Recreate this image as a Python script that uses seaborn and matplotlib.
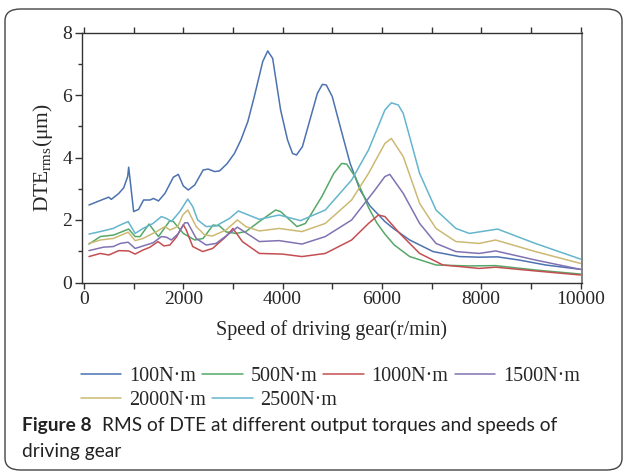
import matplotlib
matplotlib.use("Agg")
import matplotlib.pyplot as plt
from matplotlib.patches import FancyBboxPatch
from matplotlib.ticker import MultipleLocator
import seaborn as sns
import pandas as pd

series_names = ["100N·m", "500N·m", "1000N·m", "1500N·m", "2000N·m", "2500N·m"]

speed_100 = [100, 400, 500, 550, 700, 800, 880, 900, 1000, 1100, 1200, 1330, 1400, 1500, 1630,
             1800, 1900, 2000, 2100, 2230, 2400, 2500, 2630, 2730, 2880, 3030, 3160, 3300, 3430,
             3600, 3700, 3800, 3960, 4100, 4200, 4280, 4400, 4530, 4700, 4800, 4880, 5000, 5160,
             5360, 5560, 5760, 5960, 6060, 6230, 6560, 7030, 7560, 7960, 8330, 8760, 9300, 10000]
dte_100 = [2.48, 2.67, 2.73, 2.66, 2.85, 3.03, 3.39, 3.69, 2.27, 2.34, 2.64, 2.64, 2.69, 2.61, 2.85,
           3.37, 3.46, 3.09, 2.96, 3.12, 3.60, 3.63, 3.55, 3.57, 3.80, 4.13, 4.56, 5.15, 5.95,
           7.07, 7.41, 7.17, 5.52, 4.56, 4.13, 4.08, 4.35, 5.09, 6.05, 6.34, 6.32, 5.95, 4.99,
           3.81, 2.96, 2.45, 2.12, 1.95, 1.73, 1.36, 0.99, 0.83, 0.81, 0.82, 0.72, 0.56, 0.42]

speed_500 = [100, 330, 600, 900, 1030, 1130, 1310, 1500, 1730, 1800, 2000, 2230, 2400, 2600, 2730,
             2860, 3060, 3260, 3530, 3860, 3960, 4290, 4460, 4790, 5030, 5190, 5290, 5460, 5600,
             5730, 5900, 6060, 6250, 6560, 7090, 7760, 8290, 9090, 10000]
dte_500 = [1.23, 1.47, 1.52, 1.71, 1.47, 1.47, 1.87, 1.47, 1.98, 1.95, 1.57, 1.36, 1.41, 1.84, 1.81,
           1.62, 1.57, 1.63, 1.95, 2.32, 2.27, 1.79, 1.89, 2.75, 3.49, 3.81, 3.79, 3.39, 2.90,
           2.40, 1.90, 1.55, 1.20, 0.83, 0.56, 0.53, 0.54, 0.40, 0.27]

speed_1000 = [100, 330, 500, 700, 900, 1030, 1190, 1330, 1490, 1610, 1730, 1860, 2000, 2060, 2190,
              2390, 2590, 2860, 3000, 3190, 3530, 3990, 4390, 4860, 5390, 5730, 5930, 6060, 6360,
              6760, 7230, 7960, 8290, 9090, 10000]
dte_1000 = [0.83, 0.93, 0.88, 1.02, 1.01, 0.91, 1.04, 1.13, 1.31, 1.17, 1.20, 1.45, 1.85, 1.68, 1.15,
            0.99, 1.09, 1.47, 1.73, 1.31, 0.93, 0.91, 0.83, 0.93, 1.36, 1.89, 2.16, 2.11, 1.57,
            0.93, 0.56, 0.45, 0.49, 0.37, 0.24]

speed_1500 = [100, 390, 590, 730, 890, 1030, 1190, 1390, 1560, 1660, 1760, 1890, 2030, 2090, 2260,
              2460, 2660, 2930, 3090, 3530, 3930, 4390, 4860, 5390, 5860, 6060, 6160, 6430, 6760,
              7090, 7490, 7960, 8290, 9090, 10000]
dte_1500 = [1.02, 1.13, 1.15, 1.25, 1.29, 1.09, 1.17, 1.27, 1.47, 1.45, 1.36, 1.55, 1.91, 1.91, 1.41,
            1.20, 1.25, 1.57, 1.77, 1.31, 1.34, 1.23, 1.47, 2.00, 2.96, 3.39, 3.46, 2.85, 1.89,
            1.25, 0.99, 0.93, 1.01, 0.72, 0.42]

speed_2000 = [100, 330, 590, 890, 1030, 1190, 1460, 1630, 1730, 1890, 1990, 2090, 2260, 2430, 2590,
              2860, 3090, 3260, 3530, 3930, 4390, 4860, 5390, 5730, 6060, 6190, 6430, 6760, 7090,
              7490, 7960, 8290, 9090, 10000]
dte_2000 = [1.25, 1.36, 1.41, 1.61, 1.34, 1.41, 1.63, 1.79, 1.68, 1.79, 2.16, 2.32, 1.79, 1.52, 1.49,
            1.68, 2.00, 1.79, 1.65, 1.73, 1.63, 1.89, 2.64, 3.49, 4.45, 4.61, 4.03, 2.53, 1.73,
            1.31, 1.25, 1.36, 0.99, 0.61]

speed_2500 = [100, 330, 590, 730, 890, 1030, 1190, 1390, 1560, 1660, 1760, 1930, 2090, 2190, 2290,
              2460, 2660, 2930, 3110, 3530, 3930, 4360, 4860, 5390, 5730, 6060, 6190, 6330, 6430,
              6760, 7090, 7490, 7760, 8330, 9090, 10000]
dte_2500 = [1.55, 1.63, 1.73, 1.84, 1.95, 1.57, 1.73, 1.89, 2.11, 2.05, 1.95, 2.27, 2.67, 2.43, 2.00,
            1.79, 1.81, 2.05, 2.29, 2.02, 2.16, 1.98, 2.32, 3.28, 4.24, 5.52, 5.75, 5.68, 5.41,
            3.49, 2.32, 1.73, 1.57, 1.71, 1.25, 0.75]

x_ticks = [0, 2000, 4000, 6000, 8000, 10000]
y_ticks = [0, 2, 4, 6, 8]
colors = ["#4C72B0", "#55A868", "#C44E52", "#8172B2", "#CCB974", "#64B5CD"]

speeds = [speed_100, speed_500, speed_1000, speed_1500, speed_2000, speed_2500]
values = [dte_100, dte_500, dte_1000, dte_1500, dte_2000, dte_2500]
frames = []
for name, s, v in zip(series_names, speeds, values):
    frames.append(pd.DataFrame({"speed": s, "dte": v, "torque": name}))
df = pd.concat(frames, ignore_index=True)

sns.set_theme(style="white")
plt.rcParams["font.family"] = ["Liberation Serif", "DejaVu Serif"]
plt.rcParams["mathtext.fontset"] = "custom"
plt.rcParams["mathtext.rm"] = "Liberation Serif"
plt.rcParams["mathtext.it"] = "Liberation Serif:italic"

fig = plt.figure(figsize=(6.24, 4.72), dpi=100)
fig.patch.set_facecolor("white")

# rounded frame
frame = FancyBboxPatch((5 / 624, 2 / 472), 617 / 624, 461 / 472,
                       boxstyle="round,pad=0,rounding_size=0.025",
                       transform=fig.transFigure, facecolor="none",
                       edgecolor="#444444", linewidth=1.0, clip_on=False)
fig.patches.append(frame)

ax = fig.add_axes([82 / 624, 1 - 282.5 / 472, 500 / 624, 250 / 472])
sns.lineplot(data=df, x="speed", y="dte", hue="torque", hue_order=series_names,
             palette=colors, estimator=None, sort=False, linewidth=1.1, legend=False, ax=ax)

ax.set_xlim(-40, 10030)
ax.set_ylim(0, 8)
ax.set_xticks(x_ticks)
ax.set_xticklabels([str(t) for t in x_ticks])
ax.set_yticks(y_ticks)
ax.set_yticklabels([str(t) for t in y_ticks])
ax.xaxis.set_minor_locator(MultipleLocator(1000))
ax.yaxis.set_minor_locator(MultipleLocator(1))
ax.tick_params(axis="both", which="major", direction="out", length=5, width=1.0,
               color="#333333", labelsize=14, pad=2)
ax.tick_params(axis="both", which="minor", direction="out", length=3, width=1.0, color="#333333")
ax.tick_params(axis="x", which="both", top=True, bottom=True)
ax.tick_params(axis="y", which="both", left=True, right=False)
ax.tick_params(axis="x", which="both", top=True, length=4)
for side in ["left", "bottom", "top"]:
    ax.spines[side].set_color("#333333")
    ax.spines[side].set_linewidth(1.0)
ax.spines["right"].set_color("#777777")
ax.spines["right"].set_linewidth(1.3)

ax.set_xlabel("Speed of driving gear(r/min)", fontsize=14.5, labelpad=9)
ax.set_ylabel(r"DTE$_{\mathrm{rms}}$(μm)", fontsize=15.5, labelpad=5)

handles = ax.get_lines()[:6]
leg_kw = dict(loc="center left", frameon=False, fontsize=14.5, handlelength=2.0,
              handletextpad=0.4, columnspacing=0.3, borderpad=0, borderaxespad=0)
leg1 = fig.legend(handles[:4], series_names[:4], ncol=4,
                  bbox_to_anchor=(81 / 624, 1 - 376 / 472), **leg_kw)
leg2 = fig.legend(handles[4:], series_names[4:], ncol=2,
                  bbox_to_anchor=(81 / 624, 1 - 400 / 472), **leg_kw)

cap_fam = ["Lato", "DejaVu Sans"]
t1 = fig.text(22 / 624, 1 - 425 / 472, "Figure 8", fontsize=13.8, fontweight="bold",
              family=cap_fam, color="#222222", va="center", ha="left")
fig.canvas.draw()
bb = t1.get_window_extent()
fig.text(bb.x1 / 624 + 10 / 624, 1 - 425 / 472,
         "RMS of DTE at different output torques and speeds of", fontsize=13.8,
         family=cap_fam, color="#222222", va="center", ha="left")
fig.text(22 / 624, 1 - 451 / 472, "driving gear", fontsize=13.8,
         family=cap_fam, color="#222222", va="center", ha="left")

fig.savefig("out.png", dpi=100, facecolor="white")
